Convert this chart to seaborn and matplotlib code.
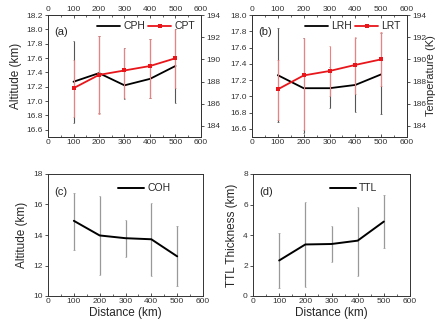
import numpy as np
import pandas as pd
import matplotlib
matplotlib.use("Agg")
import matplotlib.pyplot as plt
import seaborn as sns
from matplotlib.ticker import MultipleLocator

sns.set_theme(style="ticks")
plt.rcParams['font.family'] = ['Liberation Sans', 'DejaVu Sans']

distance = [100, 200, 300, 400, 500]

# (a)
cph = [17.27, 17.39, 17.22, 17.31, 17.49]
cph_lo = [16.69, 16.83, 17.03, 17.04, 16.97]
cph_hi = [17.84, 17.91, 17.74, 17.87, 18.01]
cpt = [187.4, 188.6, 189.0, 189.4, 190.1]
cpt_lo = [184.8, 185.1, 186.5, 186.5, 187.4]
cpt_hi = [189.9, 192.1, 191.0, 191.8, 192.7]

# (b)
lrh = [17.26, 17.10, 17.10, 17.14, 17.27]
lrh_lo = [16.68, 16.55, 16.86, 16.81, 16.78]
lrh_hi = [17.84, 17.72, 17.36, 17.72, 17.78]
lrt = [187.3, 188.55, 188.95, 189.5, 190.0]
lrt_lo = [184.5, 183.6, 186.7, 186.9, 187.6]
lrt_hi = [189.9, 191.9, 191.2, 192.0, 192.5]

# (c)
coh = [14.93, 13.97, 13.79, 13.72, 12.60]
coh_lo = [13.04, 11.40, 12.56, 11.30, 10.67]
coh_hi = [16.77, 16.53, 14.97, 16.11, 14.58]

# (d)
ttl = [2.33, 3.38, 3.41, 3.63, 4.88]
ttl_lo = [0.55, 0.62, 2.20, 1.32, 3.17]
ttl_hi = [4.15, 6.18, 4.62, 5.85, 6.62]

W, H = 437, 322
fig = plt.figure(figsize=(W / 100, H / 100), dpi=100)

def rect(l, r, t, b):
    return [l / W, 1 - b / H, (r - l) / W, (b - t) / H]

ax_a = fig.add_axes(rect(48, 201, 15, 137))
ax_b = fig.add_axes(rect(252, 407, 15, 137))
ax_c = fig.add_axes(rect(48, 203, 174, 296))
ax_d = fig.add_axes(rect(253, 410, 174, 296))

tick_fs = 6
lab_fs = 8.5

def style(ax):
    for s in ax.spines.values():
        s.set_linewidth(0.7)
        s.set_color('#333333')
    ax.tick_params(axis='both', labelsize=tick_fs, width=0.6, length=2.5, pad=1.2, colors='#333333')
    ax.tick_params(axis='x', direction='in')
    ax.tick_params(axis='x', which='minor', direction='in', length=1.5, width=0.5)
    ax.set_xlim(0, 600)
    ax.xaxis.set_major_locator(MultipleLocator(100))
    ax.xaxis.set_minor_locator(MultipleLocator(50))

def bars(ax, x, lo, hi, color, lw=0.8):
    ax.vlines(x, lo, hi, colors=color, linewidth=lw, zorder=2)
    ax.hlines(lo, np.array(x) - 3, np.array(x) + 3, colors=color, linewidth=0.5, zorder=2)
    ax.hlines(hi, np.array(x) - 3, np.array(x) + 3, colors=color, linewidth=0.5, zorder=2)

def twin_panel(ax, h, hlo, hhi, t, tlo, thi, hname, tname, letter, ylim, yticks, right_label):
    style(ax)
    ax2 = ax.twinx()
    ax3 = ax.twiny()
    bars(ax, distance, hlo, hhi, '#555555')
    sns.lineplot(x=distance, y=h, ax=ax, color='black', linewidth=1.3, label=hname, legend=False, zorder=4)
    bars(ax2, distance, tlo, thi, '#f08080')
    sns.lineplot(x=distance, y=t, ax=ax2, color='#e8161b', linewidth=1.3, marker='s', markersize=2.5,
                 markeredgewidth=0, label=tname, legend=False, zorder=5)
    ax.set_ylim(*ylim)
    ax.set_yticks(yticks)
    ax.set_yticklabels([f"{v:.1f}" for v in yticks])
    ax2.set_ylim(183, 194)
    ax2.set_yticks([184, 186, 188, 190, 192, 194])
    ax2.tick_params(axis='y', labelsize=tick_fs, width=0.6, length=2.5, pad=1.0, colors='#333333')
    ax2.set_ylabel(right_label, fontsize=8, labelpad=0)
    ax3.set_xlim(0, 600)
    ax3.xaxis.set_major_locator(MultipleLocator(100))
    ax3.tick_params(axis='x', labelsize=tick_fs, direction='in', width=0.6, length=2.5, pad=1.2, colors='#333333')
    ax3.xaxis.set_minor_locator(MultipleLocator(50))
    ax3.tick_params(axis='x', which='minor', direction='in', length=1.5, width=0.5)
    ax.set_xlabel('')
    ax.set_ylabel('')
    for s in list(ax2.spines.values()) + list(ax3.spines.values()):
        s.set_linewidth(0.7)
        s.set_color('#333333')
    ax.text(0.04, 0.84, letter, transform=ax.transAxes, fontsize=8)
    h1, l1 = ax.get_legend_handles_labels()
    h2, l2 = ax2.get_legend_handles_labels()
    ax3.legend(h1 + h2, l1 + l2, loc='upper right', ncol=2, frameon=False, fontsize=7.5,
               handlelength=2.2, columnspacing=0.3, handletextpad=0.3, borderaxespad=0.2,
               bbox_to_anchor=(1.0, 1.0))
    return ax2

twin_panel(ax_a, cph, cph_lo, cph_hi, cpt, cpt_lo, cpt_hi, 'CPH', 'CPT', '(a)',
           (16.5, 18.2), np.round(np.arange(16.6, 18.21, 0.2), 1), '')
ax_a.set_ylabel('Altitude (km)', fontsize=lab_fs, labelpad=3)
twin_panel(ax_b, lrh, lrh_lo, lrh_hi, lrt, lrt_lo, lrt_hi, 'LRH', 'LRT', '(b)',
           (16.5, 18.0), np.round(np.arange(16.6, 18.01, 0.2), 1), 'Temperature (K)')

def single_panel(ax, y, lo, hi, name, letter, ylim, yticks, ylabel):
    style(ax)
    bars(ax, distance, lo, hi, '#999999', lw=0.9)
    sns.lineplot(x=distance, y=y, ax=ax, color='black', linewidth=1.4, label=name, zorder=4)
    ax.set_ylim(*ylim)
    ax.set_yticks(yticks)
    ax.set_ylabel(ylabel, fontsize=lab_fs, labelpad=4)
    ax.set_xlabel('Distance (km)', fontsize=lab_fs, labelpad=2)
    ax.text(0.04, 0.83, letter, transform=ax.transAxes, fontsize=8)
    ax.legend(loc='upper right', frameon=False, fontsize=7.5, handlelength=2.5, handletextpad=0.3,
              bbox_to_anchor=(0.85, 1.0))

single_panel(ax_c, coh, coh_lo, coh_hi, 'COH', '(c)', (10, 18), [10, 12, 14, 16, 18], 'Altitude (km)')
single_panel(ax_d, ttl, ttl_lo, ttl_hi, 'TTL', '(d)', (0, 8), [0, 2, 4, 6, 8], 'TTL Thickness (km)')

fig.savefig('out.png', dpi=100)
